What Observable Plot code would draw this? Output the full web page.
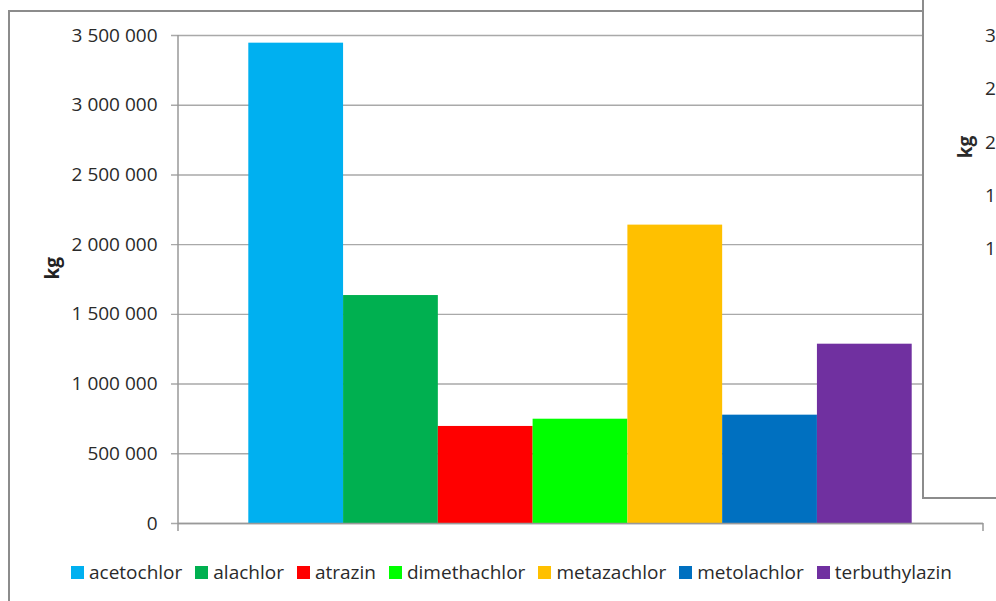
<!DOCTYPE html>
<html>
<head>
<meta charset="utf-8">
<script src="https://cdn.jsdelivr.net/npm/d3@7"></script>
<script src="https://cdn.jsdelivr.net/npm/@observablehq/plot@0.6"></script>
<style>
  html, body { margin: 0; padding: 0; background: #fff; }
  #page { position: relative; width: 996px; height: 601px; overflow: hidden; font-family: "Open Sans", sans-serif; color: #2a2a2a; }
  #chart-border { position: absolute; left: 8px; top: 10px; width: 1200px; height: 800px; border-left: 2px solid #8c8c8c; border-top: 2px solid #8c8c8c; }
  #plot { position: absolute; left: 0; top: 0; }
  #legend { position: absolute; left: 71px; top: 560px; display: flex; align-items: center; font-size: 19px; line-height: 24px; }
  #legend .item { display: flex; align-items: center; margin-right: 13px; }
  #legend .swatch { width: 13px; height: 13px; margin-right: 5px; }
  #side { position: absolute; left: 922px; top: 0; width: 100px; height: 497px; background: #fff; border-left: 2px solid #8c8c8c; border-bottom: 2px solid #8c8c8c; }
  #side .tick { position: absolute; left: 61px; font-size: 19px; line-height: 24px; }
  #side .label { position: absolute; left: 30px; top: 135px; font-size: 19px; font-weight: bold; line-height: 24px; transform: rotate(-90deg); transform-origin: center; }
</style>
</head>
<body>
<div id="page">
  <div id="chart-border"></div>
  <div id="plot"></div>
  <div id="side"></div>
  <div id="legend"></div>
</div>
<script>
// Pesticide use by active substance, kg
const pesticides = ["acetochlor", "alachlor", "atrazin", "dimethachlor", "metazachlor", "metolachlor", "terbuthylazin"];
const usageKg = [3445000, 1635000, 696000, 748000, 2140000, 777000, 1286000];
const colours = ["#00B0F0", "#00B050", "#FF0000", "#00FF00", "#FFC000", "#0070C0", "#7030A0"];
const yTicks = [0, 500000, 1000000, 1500000, 2000000, 2500000, 3000000, 3500000];

// neighbouring chart (partly hidden): its leading tick digits and axis title
const sideTicks = ["3", "2", "2", "1", "1"];
const sideLabel = "kg";

const rows = pesticides.map((name, i) => ({name, kg: usageKg[i]}));
const spaceThousands = (v) => d3.format(",")(v).replace(/,/g, " ");

const gridColour = "#a9a9a9";
const axisColour = "#999999";

// y axis line (extending below the baseline) and the closing tick at the right end
function axisFrame(index, scales, values, dimensions) {
  const {width, height, marginLeft, marginRight, marginTop, marginBottom} = dimensions;
  const g = document.createElementNS("http://www.w3.org/2000/svg", "g");
  const x0 = marginLeft, x1 = width - marginRight, yb = height - marginBottom;
  const segs = [[x0, marginTop, x0, yb + 8], [x1, yb, x1, yb + 8]];
  for (const [a, b, c, d] of segs) {
    const l = document.createElementNS("http://www.w3.org/2000/svg", "line");
    l.setAttribute("x1", a); l.setAttribute("y1", b);
    l.setAttribute("x2", c); l.setAttribute("y2", d);
    l.setAttribute("stroke", axisColour);
    l.setAttribute("stroke-width", 1.5);
    g.appendChild(l);
  }
  return g;
}

const chart = Plot.plot({
  width: 996,
  height: 545,
  marginTop: 35,
  marginBottom: 22,
  marginLeft: 178,
  marginRight: 13,
  style: {fontFamily: "Open Sans, sans-serif", fontSize: "19px", color: "#2a2a2a", background: "transparent"},
  x: {domain: pesticides, padding: 0, round: false, insetLeft: 70.3, insetRight: 71.3, axis: null},
  y: {domain: [0, 3500000], ticks: yTicks, tickFormat: spaceThousands, tickSize: 0, tickPadding: 21, label: null},
  color: {domain: pesticides, range: colours},
  marks: [
    Plot.ruleY(yTicks, {stroke: gridColour, strokeWidth: 1.4, insetLeft: -7}),
    Plot.barY(rows, {x: "name", y: "kg", fill: "name"}),
    Plot.ruleY([0], {stroke: axisColour, strokeWidth: 1.5}),
    axisFrame,
    Plot.text(["kg"], {frameAnchor: "left", dx: -126, rotate: -90, fontWeight: "bold", fontSize: 19, fill: "#222"})
  ]
});
document.getElementById("plot").appendChild(chart);

// legend
const legend = document.getElementById("legend");
pesticides.forEach((name, i) => {
  const item = document.createElement("div");
  item.className = "item";
  const sw = document.createElement("div");
  sw.className = "swatch";
  sw.style.background = colours[i];
  const tx = document.createElement("span");
  tx.textContent = name;
  item.appendChild(sw);
  item.appendChild(tx);
  legend.appendChild(item);
});

// partly hidden neighbouring chart
const side = document.getElementById("side");
sideTicks.forEach((t, i) => {
  const s = document.createElement("div");
  s.className = "tick";
  s.style.top = (23 + i * 53.3) + "px";
  s.textContent = t;
  side.appendChild(s);
});
const sl = document.createElement("div");
sl.className = "label";
sl.textContent = sideLabel;
side.appendChild(sl);
</script>
</body>
</html>
